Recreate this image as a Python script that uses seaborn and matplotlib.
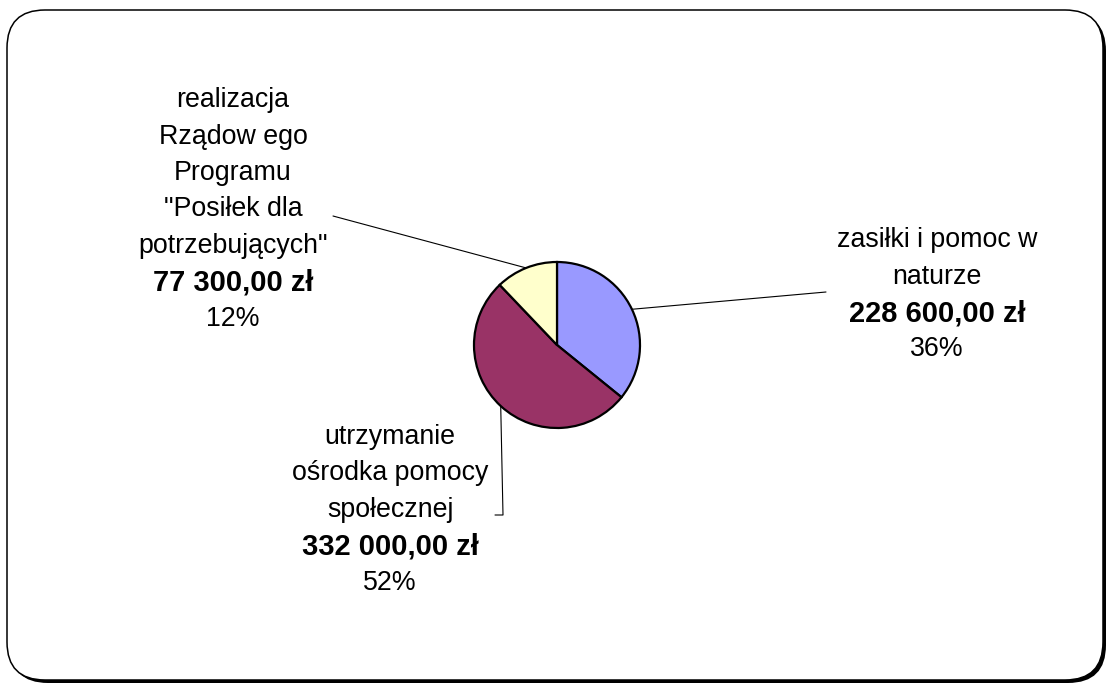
import numpy as np
import seaborn as sns
import matplotlib.pyplot as plt
from matplotlib.patches import FancyBboxPatch

# data
categories = [
    'zasiłki i pomoc w\nnaturze',
    'utrzymanie\nośrodka pomocy\nspołecznej',
    'realizacja\nRządow ego\nProgramu\n"Posiłek dla\npotrzebujących"',
]
values = [228600, 332000, 77300]
colors = ['#9999FF', '#993366', '#FFFFCC']

sns.set_style('white')
plt.rcParams['font.family'] = ['Liberation Sans', 'DejaVu Sans']
plt.rcParams['text.color'] = 'black'

W, H = 1108, 684
fig = plt.figure(figsize=(W / 100, H / 100), dpi=100)
ax = fig.add_axes([0, 0, 1, 1])

# rounded frame with shadow
shadow = FancyBboxPatch((10, 13), 1096, 670, boxstyle='round,pad=0,rounding_size=38',
                        facecolor='black', edgecolor='none', zorder=0)
frame = FancyBboxPatch((7, 10), 1096, 670, boxstyle='round,pad=0,rounding_size=38',
                       facecolor='white', edgecolor='black', linewidth=1.1, zorder=1)
ax.add_patch(shadow)
ax.add_patch(frame)

cx, cy, r = 557, 345, 83
# y axis is inverted below, so startangle -90 / counterclock gives top start, clockwise on screen
wedges, _ = ax.pie(values, colors=colors, center=(cx, cy), radius=r,
                   startangle=-90, counterclock=True, frame=True,
                   wedgeprops=dict(edgecolor='black', linewidth=1.6))
for w in wedges:
    w.set_zorder(3)
ax.set_xlim(0, W)
ax.set_ylim(H, 0)  # pixel-like coords, y down
ax.set_aspect('equal')
ax.axis('off')

total = sum(values)
label_pos = [(937, 240), (390, 437), (233, 100)]
leader_end = [[(826, 292)], [(503, 515), (495, 515)], [(333, 216)]]
step = 36.5

for i, (cat, val) in enumerate(zip(categories, values)):
    w = wedges[i]
    mid = np.deg2rad((w.theta1 + w.theta2) / 2)
    sx, sy = cx + r * np.cos(mid), cy + r * np.sin(mid)
    pts = [(sx, sy)] + leader_end[i]
    ax.plot([p[0] for p in pts], [p[1] for p in pts], color='black', lw=0.8, zorder=2)

    x0, y0 = label_pos[i]
    lines = cat.split('\n')
    money = f'{val:,.2f}'.replace(',', ' ').replace('.', ',') + ' zł'
    pct = f'{round(val / total * 100)}%'
    for j, ln in enumerate(lines):
        ax.text(x0, y0 + j * step, ln, ha='center', va='center', fontsize=19.3,
                color='black', zorder=4)
    n = len(lines)
    ax.text(x0, y0 + n * step, money, ha='center', va='center', fontsize=21,
            fontweight='bold', color='black', zorder=4)
    ax.text(x0, y0 + (n + 1) * step, pct, ha='center', va='center', fontsize=19.3,
            color='black', zorder=4)

fig.savefig('out.png', dpi=100)
